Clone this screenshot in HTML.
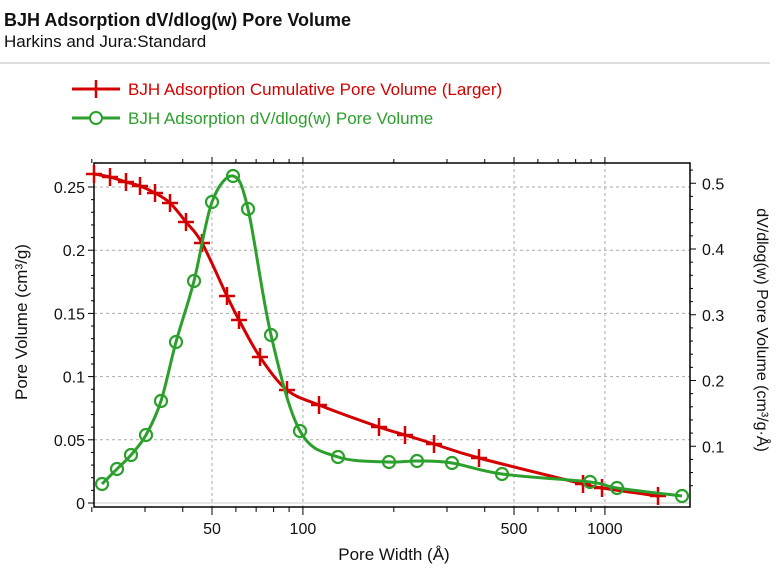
<!DOCTYPE html>
<html><head><meta charset="utf-8"><style>
body{margin:0;background:#fff;width:780px;height:572px;overflow:hidden;font-family:"Liberation Sans",Arial,sans-serif}
</style></head><body>
<svg id="s" width="780" height="572" xmlns="http://www.w3.org/2000/svg" font-family="Liberation Sans, Arial, sans-serif">
<text x="4" y="26" font-size="18" font-weight="bold" fill="#111">BJH Adsorption dV/dlog(w) Pore Volume</text>
<text x="4" y="47" font-size="17" fill="#111">Harkins and Jura:Standard</text>
<line x1="0" y1="63" x2="770" y2="63" stroke="#bbb" stroke-width="1"/>
<line x1="72" y1="89" x2="120" y2="89" stroke="#d40000" stroke-width="3"/>
<path d="M96 80v18M87 89h18" stroke="#d40000" stroke-width="2.5"/>
<text x="128" y="95" font-size="17" fill="#d40000">BJH Adsorption Cumulative Pore Volume (Larger)</text>
<line x1="72" y1="118" x2="120" y2="118" stroke="#2ca02c" stroke-width="3"/>
<circle cx="96" cy="118" r="6" fill="#fff" stroke="#2ca02c" stroke-width="2"/>
<text x="128" y="124" font-size="17" fill="#2ca02c">BJH Adsorption dV/dlog(w) Pore Volume</text>
<g id="g"></g>
</svg>
<script>
var ns="http://www.w3.org/2000/svg",g=document.getElementById('g');
function el(t,a,txt){var e=document.createElementNS(ns,t);for(var k in a)e.setAttribute(k,a[k]);if(txt!=null)e.textContent=txt;g.appendChild(e);return e;}
var L=94,R=690,T=163,B=507;
function X(w){return 212+(Math.log10(w)-Math.log10(50))*302;}
function YL(v){return 503-v*1264;}
function YR(v){return 512-v*657.5;}
[50,100,500,1000].forEach(function(w){el('line',{x1:X(w),x2:X(w),y1:T,y2:B,stroke:'#aaa','stroke-dasharray':'3,3'});});
[0.05,0.1,0.15,0.2,0.25].forEach(function(v){el('line',{x1:L,x2:R,y1:YL(v),y2:YL(v),stroke:'#aaa','stroke-dasharray':'3,3'});});
el('line',{x1:L,x2:R,y1:YL(0),y2:YL(0),stroke:'#ccc'});
el('rect',{x:L,y:T,width:R-L,height:B-T,fill:'none',stroke:'#000','stroke-width':1.5});
for(var v=0;v<=0.27;v+=0.01){var y=YL(v),maj=Math.round(v*100)%5==0;el('line',{x1:L-(maj?6:3),x2:L,y1:y,y2:y,stroke:'#000'});}
[["0",0],["0.05",0.05],["0.1",0.1],["0.15",0.15],["0.2",0.2],["0.25",0.25]].forEach(function(p){el('text',{x:L-9,y:YL(p[1])+6,'font-size':16,'text-anchor':'end',fill:'#111'},p[0]);});
for(var v=0.04;v<=0.53;v+=0.02){var y=YR(v),maj=Math.round(v*100)%10==0;el('line',{x1:R,x2:R+(maj?6:3),y1:y,y2:y,stroke:'#000'});}
[0.1,0.2,0.3,0.4,0.5].forEach(function(v){el('text',{x:R+12,y:YR(v)+6,'font-size':16,fill:'#111'},String(v));});
[20,30,40,50,60,70,80,90,100,200,300,400,500,600,700,800,900,1000].forEach(function(w){var x=X(w),maj=[50,100,500,1000].indexOf(w)>=0;el('line',{x1:x,x2:x,y1:B,y2:B+(maj?8:5),stroke:'#000'});el('line',{x1:x,x2:x,y1:T,y2:T-(maj?6:4),stroke:'#000'});});
[50,100,500,1000].forEach(function(w){el('text',{x:X(w),y:B+27,'font-size':16,'text-anchor':'middle',fill:'#111'},String(w));});
el('text',{x:394,y:560,'font-size':17,'text-anchor':'middle',fill:'#111'},'Pore Width (Å)');
el('text',{x:0,y:0,'font-size':17,'text-anchor':'middle',fill:'#111',transform:'translate(27,322) rotate(-90)'},'Pore Volume (cm³/g)');
el('text',{x:0,y:0,'font-size':16,'text-anchor':'middle',fill:'#111',transform:'translate(757,330) rotate(90)'},'dV/dlog(w) Pore Volume (cm³/g·Å)');
function spline(p){var d='M'+p[0][0]+' '+p[0][1];for(var i=0;i<p.length-1;i++){var p0=p[i-1]||p[i],p1=p[i],p2=p[i+1],p3=p[i+2]||p2;d+='C'+(p1[0]+(p2[0]-p0[0])/6)+' '+(p1[1]+(p2[1]-p0[1])/6)+' '+(p2[0]-(p3[0]-p1[0])/6)+' '+(p2[1]-(p3[1]-p1[1])/6)+' '+p2[0]+' '+p2[1];}return d;}
var red=[[94,174],[110,177],[126,182],[140,186],[155,193],[170,203],[186,222],[202,243],[227,296],[239,320],[260,357],[287,390],[319,405],[379,427],[405,435],[434,444],[479,458],[583,484],[602,488],[658,496]];
var grn=[[102,484],[117,469],[131,455],[146,435],[161,401],[176,342],[194,281],[212,202],[233,176],[248,209],[271,335],[300,431],[338,457],[389,462],[417,461],[452,463],[502,474],[590,482],[617,488],[682,496]];
el('path',{d:spline(red),fill:'none',stroke:'#d40000','stroke-width':3});
red.forEach(function(p){el('path',{d:'M'+p[0]+' '+(p[1]-9)+'v18M'+(p[0]-8)+' '+p[1]+'h16',stroke:'#d40000','stroke-width':2.5});});
el('path',{d:spline(grn),fill:'none',stroke:'#2ca02c','stroke-width':3});
grn.forEach(function(p){el('circle',{cx:p[0],cy:p[1],r:6,fill:'none',stroke:'#2ca02c','stroke-width':2.2});});
</script>
</body></html>
